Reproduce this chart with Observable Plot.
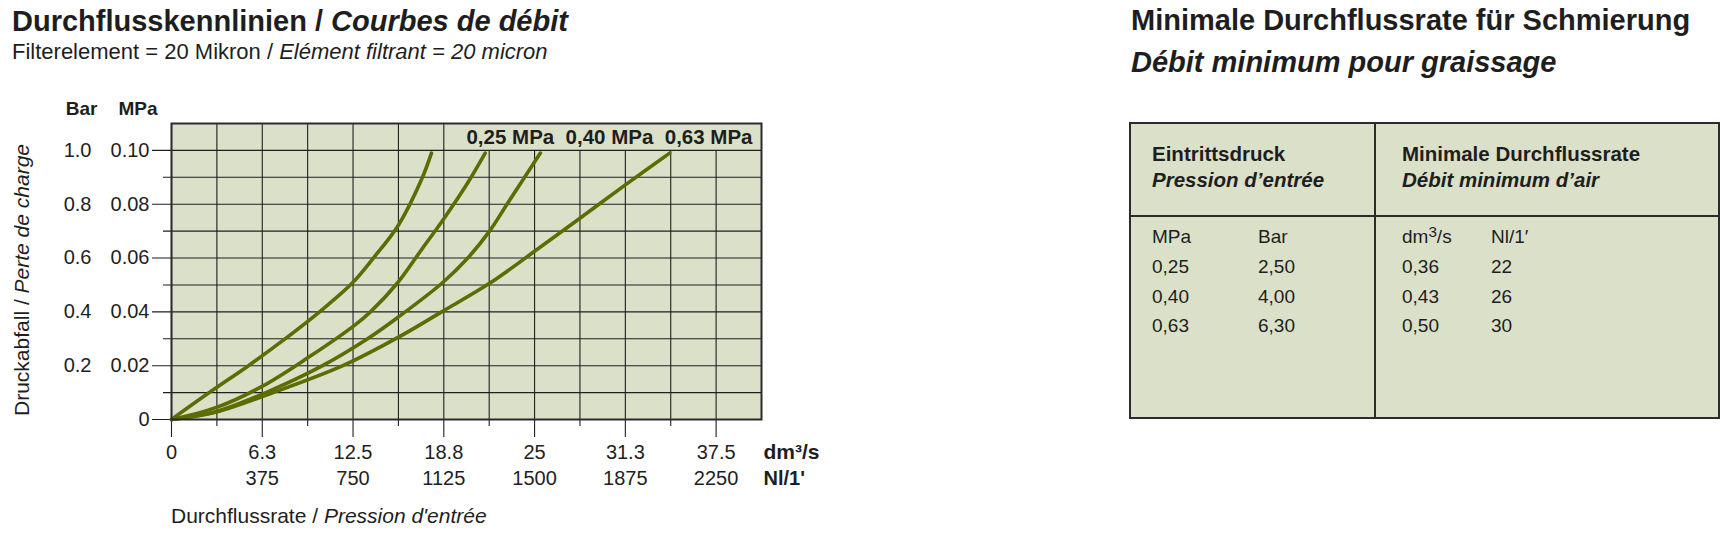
<!DOCTYPE html>
<html>
<head>
<meta charset="utf-8">
<script src="https://cdn.jsdelivr.net/npm/d3@7"></script>
<script src="https://cdn.jsdelivr.net/npm/@observablehq/plot@0.6"></script>
<style>
  html, body { margin: 0; padding: 0; background: #fff; }
  body { width: 1720px; height: 536px; position: relative; overflow: hidden;
         font-family: "Liberation Sans", Arial, sans-serif; color: #1e1e1e; }
  .abs { position: absolute; white-space: nowrap; }
  .t29 { font-size: 29px; line-height: 29px; font-weight: bold; }
  #tbl { position: absolute; left: 1129px; top: 122px; width: 587px; height: 293px;
         border: 2px solid #2b2b2b; background: #dbe0c9; }
  #tbl .cell { position: absolute; white-space: nowrap; line-height: 24px; }
  #tbl .hd { font-size: 20.5px; font-weight: bold; }
  #tbl .dt { font-size: 19px; }
  #tbl .vline { position: absolute; top: 0; bottom: 0; width: 1.5px; background: #2b2b2b; }
  #tbl .hline { position: absolute; left: 0; right: 0; height: 1.5px; background: #2b2b2b; }
</style>
</head>
<body>
<div class="abs t29" style="left:12px;top:6.5px;">Durchflusskennlinien / <i>Courbes de débit</i></div>
<div class="abs" style="left:12px;top:41px;font-size:22px;line-height:22px;">Filterelement = 20 Mikron / <i>Elément filtrant = 20 micron</i></div>

<div class="abs t29" style="left:1131px;top:5.5px;">Minimale Durchflussrate für Schmierung</div>
<div class="abs t29" style="left:1131px;top:48px;font-style:italic;">Débit minimum pour graissage</div>

<div id="chart" class="abs" style="left:0;top:80px;"></div>
<div class="abs" style="left:171px;top:505px;font-size:21px;line-height:22px;">Durchflussrate / <i>Pression d'entrée</i></div>
<div class="abs" style="left:22px;top:280px;font-size:21px;line-height:22px;transform:translate(-50%,-50%) rotate(-90deg);">Druckabfall / <i>Perte de charge</i></div>

<div id="tbl"></div>

<script>
// ---------- chart data ----------
const seriesLabels = ["0,25 MPa", "0,40 MPa", "0,63 MPa"];

// flow rate (dm³/s) and pressure drop (MPa)
const flowA = [0, 2.6, 5.3, 7.7, 10.3, 12.5, 13.9, 15.6, 17.2, 17.9];
const dropA = [0, 0.010, 0.020, 0.0295, 0.0405, 0.051, 0.060, 0.072, 0.089, 0.099];

const flowB = [0, 3.1, 6.2, 9.4, 12.6, 13.7, 15.6, 17.2, 18.8, 20.4, 21.6];
const dropB = [0, 0.0045, 0.0122, 0.023, 0.035, 0.040, 0.051, 0.063, 0.075, 0.088, 0.099];

const flowC = [0, 3.1, 6.5, 10.4, 13.5, 15.6, 18.7, 20.4, 21.9, 23.1, 25.4];
const dropC = [0, 0.003, 0.010, 0.020, 0.030, 0.038, 0.051, 0.060, 0.070, 0.080, 0.099];

const flowD = [0, 3.1, 7.0, 11.8, 15.6, 18.6, 21.9, 25.0, 28.1, 31.2, 34.3];
const dropD = [0, 0.0028, 0.010, 0.020, 0.0305, 0.040, 0.0506, 0.0625, 0.0747, 0.087, 0.099];

// axes
const xDomain = [0, 40.625];
const yDomain = [0, 0.11];
const xMajor = [0, 6.25, 12.5, 18.75, 25, 31.25, 37.5];
const xMinor = [3.125, 9.375, 15.625, 21.875, 28.125, 34.375];
const dm3Labels = ["0", "6.3", "12.5", "18.8", "25", "31.3", "37.5"];
const nlTicks = [6.25, 12.5, 18.75, 25, 31.25, 37.5];
const nlLabels = ["375", "750", "1125", "1500", "1875", "2250"];
const yMajor = [0, 0.02, 0.04, 0.06, 0.08, 0.10];
const yMinor = [0.01, 0.03, 0.05, 0.07, 0.09];
const mpaLabels = ["0", "0.02", "0.04", "0.06", "0.08", "0.10"];
const barLabels = ["", "0.2", "0.4", "0.6", "0.8", "1.0"];
const labelRowFrom = 20; // vertical grid lines right of this stop below the label row

// ---------- table data ----------
const tblPressureMPa = [0.25, 0.40, 0.63];
const tblPressureBar = [2.50, 4.00, 6.30];
const tblFlowDm3s = [0.36, 0.43, 0.50];
const tblFlowNl = [22, 26, 30];

// ---------- build chart ----------
const rows = [];
[[flowA, dropA, "A"], [flowB, dropB, "B"], [flowC, dropC, "C"], [flowD, dropD, "D"]]
  .forEach(([fx, dy, s]) => fx.forEach((x, i) => rows.push({flow: x, drop: dy[i], s})));

const gridColor = "#1f1f1f";
const topOf = d => d < labelRowFrom ? yDomain[1] : yMajor[yMajor.length - 1];

const chart = Plot.plot({
  width: 860,
  height: 456,
  marginLeft: 171,
  marginRight: 99,
  marginTop: 43,
  marginBottom: 117,
  x: {domain: xDomain, axis: null},
  y: {domain: yDomain, axis: null},
  style: {fontFamily: "'Liberation Sans', Arial, sans-serif", fontSize: "20px", color: "#1e1e1e", background: "transparent", overflow: "visible"},
  marks: [
    Plot.frame({fill: "#dbe0c9", stroke: null}),
    Plot.ruleY(yMinor, {y: d => d, insetLeft: -8, stroke: gridColor, strokeWidth: 1.1}),
    Plot.ruleY(yMajor, {y: d => d, insetLeft: -19, stroke: gridColor, strokeWidth: 1.1}),
    Plot.ruleX(xMinor, {x: d => d, y1: topOf, y2: 0, insetBottom: -7, stroke: gridColor, strokeWidth: 1.1}),
    Plot.ruleX(xMajor, {x: d => d, y1: topOf, y2: 0, insetBottom: -18, stroke: gridColor, strokeWidth: 1.1}),
    Plot.line(rows, {x: "flow", y: "drop", z: "s", stroke: "#5d6c00", strokeWidth: 3.6, curve: "catmull-rom"}),
    Plot.frame({stroke: "#2b2b2b", strokeWidth: 2}),
    Plot.text(yMajor, {y: d => d, frameAnchor: "left", text: (d, i) => mpaLabels[i], textAnchor: "end", lineAnchor: "middle", dx: -22}),
    Plot.text(yMajor, {y: d => d, frameAnchor: "left", text: (d, i) => barLabels[i], textAnchor: "end", lineAnchor: "middle", dx: -80}),
    Plot.text(["Bar"], {frameAnchor: "top-left", textAnchor: "end", lineAnchor: "middle", dx: -74, dy: -15, fontWeight: "bold", fontSize: 19}),
    Plot.text(["MPa"], {frameAnchor: "top-left", textAnchor: "end", lineAnchor: "middle", dx: -14, dy: -15, fontWeight: "bold", fontSize: 19}),
    Plot.text(xMajor, {x: d => d, frameAnchor: "bottom", text: (d, i) => dm3Labels[i], lineAnchor: "middle", dy: 33}),
    Plot.text(nlTicks, {x: d => d, frameAnchor: "bottom", text: (d, i) => nlLabels[i], lineAnchor: "middle", dy: 59}),
    Plot.text(["dm³/s"], {frameAnchor: "bottom-right", textAnchor: "start", lineAnchor: "middle", dx: 2, dy: 33, fontWeight: "bold", fontSize: 21}),
    Plot.text(["Nl/1'"], {frameAnchor: "bottom-right", textAnchor: "start", lineAnchor: "middle", dx: 2, dy: 59, fontWeight: "bold"}),
    Plot.text([seriesLabels.join("\u00a0\u00a0")], {frameAnchor: "top-right", textAnchor: "end", lineAnchor: "middle", dx: -9, dy: 14, fontWeight: "bold", fontSize: 20.5})
  ]
});
document.getElementById("chart").appendChild(chart);

// ---------- build table ----------
const tbl = document.getElementById("tbl");
const fmt = v => v.toFixed(2).replace(".", ",");
function cell(html, left, centerY, cls, extra) {
  const d = document.createElement("div");
  d.className = "cell " + cls;
  d.style.left = left + "px";
  d.style.top = (centerY - 12) + "px";
  if (extra) d.style.cssText += extra;
  d.innerHTML = html;
  tbl.appendChild(d);
}
const v = document.createElement("div"); v.className = "vline"; v.style.left = "243px"; tbl.appendChild(v);
const h = document.createElement("div"); h.className = "hline"; h.style.top = "91px"; tbl.appendChild(h);

const colX = [21, 127, 271, 360];
cell("Eintrittsdruck", colX[0], 30, "hd");
cell("Pression d’entrée", colX[0], 56, "hd", "font-style:italic;");
cell("Minimale Durchflussrate", colX[2], 30, "hd");
cell("Débit minimum d’air", colX[2], 56, "hd", "font-style:italic;");
cell("MPa", colX[0], 113, "dt");
cell("Bar", colX[1], 113, "dt");
cell("dm<sup style='font-size:0.8em;vertical-align:0.4em;line-height:0'>3</sup>/s", colX[2], 113, "dt");
cell("Nl/1′", colX[3], 113, "dt");
const rowY = [143, 172.5, 202];
tblPressureMPa.forEach((p, i) => {
  cell(fmt(p), colX[0], rowY[i], "dt");
  cell(fmt(tblPressureBar[i]), colX[1], rowY[i], "dt");
  cell(fmt(tblFlowDm3s[i]), colX[2], rowY[i], "dt");
  cell(String(tblFlowNl[i]), colX[3], rowY[i], "dt");
});
</script>
</body>
</html>
